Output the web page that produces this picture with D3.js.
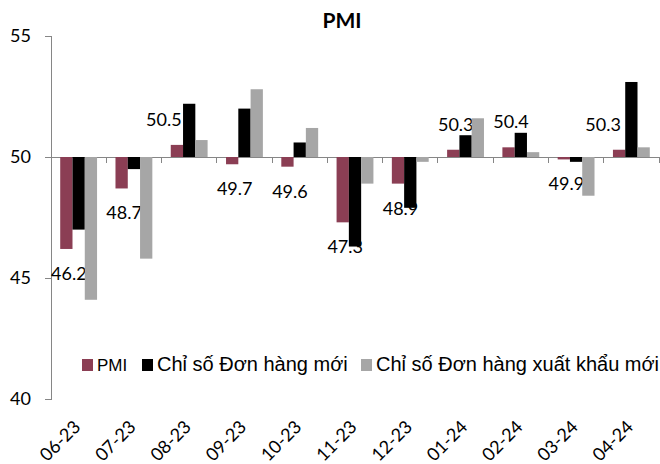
<!DOCTYPE html>
<meta charset="utf-8">
<style>

body {
  margin: 0;
  background: #fff;
}

text {
  font-family: Lato, "Open Sans", sans-serif;
  fill: #000;
}

.title {
  font-weight: 700;
  font-size: 21px;
}

.axis path, .axis line {
  stroke: #868686;
  shape-rendering: crispEdges;
}

.axis text {
  font-family: Lato, "Open Sans", sans-serif;
  font-size: 18px;
}

.label {
  font-size: 18px;
}

.legend text {
  font-family: "Liberation Sans", Arial, sans-serif;
}

</style>
<svg id="chart"></svg>
<script src="https://d3js.org/d3.v7.min.js"></script>
<script>

  // data
  let months = ["06-23", "07-23", "08-23", "09-23", "10-23", "11-23", "12-23", "01-24", "02-24", "03-24", "04-24"];
  let pmi = [46.2, 48.7, 50.5, 49.7, 49.6, 47.3, 48.9, 50.3, 50.4, 49.9, 50.3];
  let newOrders = [47.0, 49.5, 52.2, 52.0, 50.6, 46.3, 47.9, 50.9, 51.0, 49.8, 53.1];
  let exportOrders = [44.1, 45.8, 50.7, 52.8, 51.2, 48.9, 49.8, 51.6, 50.2, 48.4, 50.4];
  let seriesNames = ["PMI", "Chỉ số Đơn hàng mới", "Chỉ số Đơn hàng xuất khẩu mới"];
  let yTicks = [40, 45, 50, 55];

  let colors = ["#8b3e54", "#000000", "#a6a6a6"];
  let baseline = 50;

  // two labels were dragged left in the original
  let labelShift = {"08-23": -15.5, "04-24": -18.5};

  let svg = d3.select("#chart")
    .attr("width", 660)
    .attr("height", 464);

  svg.append("rect")
    .attr("width", 660)
    .attr("height", 464)
    .attr("fill", "#fff");

  let x0 = d3.scaleBand()
    .domain(months)
    .range([51, 659])
    .paddingInner(1 / 3)
    .paddingOuter(1 / 6);

  let x1 = d3.scaleBand()
    .domain(seriesNames)
    .range([0, x0.bandwidth()]);

  let y = d3.scaleLinear()
    .domain([40, 55])
    .range([399, 36]);

  let rows = months.map((m, i) => ({
    month: m,
    values: [pmi[i], newOrders[i], exportOrders[i]]
  }));

  // title
  svg.append("text")
    .attr("class", "title")
    .attr("x", 342)
    .attr("y", 28)
    .attr("text-anchor", "middle")
    .text("PMI");

  // y axis
  let yAxis = svg.append("g")
    .attr("class", "axis axis--y")
    .attr("transform", "translate(51,0)")
    .call(d3.axisLeft(y).tickValues(yTicks).tickSize(6).tickPadding(14).tickFormat(d3.format("d")));
  yAxis.select(".domain").attr("d", "M-6," + y(55) + "H0V" + y(40) + "H-6");

  // category axis sitting on 50
  let step = x0.step();
  let xLine = svg.append("g")
    .attr("class", "axis axis--x");
  xLine.append("line")
    .attr("x1", 51).attr("x2", 659)
    .attr("y1", y(baseline)).attr("y2", y(baseline));
  xLine.selectAll(".tick")
    .data(d3.range(months.length + 1))
    .enter()
    .append("line")
    .attr("x1", i => 51 + i * step)
    .attr("x2", i => 51 + i * step)
    .attr("y1", y(baseline))
    .attr("y2", y(baseline) + 6);

  // month labels under the plot
  svg.append("g")
    .selectAll("text")
    .data(months)
    .enter()
    .append("text")
    .attr("class", "label")
    .attr("text-anchor", "end")
    .attr("transform", d => "translate(" + (x0(d) + x0.bandwidth() / 2 + 3) + ",428) rotate(-45)")
    .text(d => d);

  // PMI value labels (drawn under the bars, like the original)
  svg.append("g")
    .selectAll("text")
    .data(rows)
    .enter()
    .append("text")
    .attr("class", "label")
    .attr("text-anchor", "middle")
    .attr("x", d => x0(d.month) + x1("PMI") + x1.bandwidth() / 2 + 2.5 + (labelShift[d.month] || 0))
    .attr("y", d => d.values[0] >= baseline ? y(d.values[0]) - 19 : y(d.values[0]) + 31)
    .text(d => d3.format(".1f")(d.values[0]));

  // bars
  let groups = svg.append("g")
    .selectAll("g")
    .data(rows)
    .enter()
    .append("g")
    .attr("transform", d => "translate(" + x0(d.month) + ",0)");

  groups.selectAll("rect")
    .data(d => d.values.map((v, i) => ({name: seriesNames[i], value: v, i: i})))
    .enter()
    .append("rect")
    .attr("x", d => x1(d.name))
    .attr("y", d => y(Math.max(d.value, baseline)))
    .attr("width", x1.bandwidth())
    .attr("height", d => Math.abs(y(d.value) - y(baseline)))
    .attr("fill", d => colors[d.i]);

  // legend
  let legendX = [82, 142, 361];
  let legend = svg.append("g")
    .attr("class", "legend")
    .selectAll("g")
    .data(seriesNames)
    .enter()
    .append("g")
    .attr("transform", (d, i) => "translate(" + legendX[i] + ",359)");

  legend.append("rect")
    .attr("width", 11)
    .attr("height", 12)
    .attr("fill", (d, i) => colors[i]);

  legend.append("text")
    .attr("x", 15)
    .attr("y", 12)
    .style("font-size", (d, i) => i == 0 ? "17px" : "20px")
    .text(d => d);

</script>
